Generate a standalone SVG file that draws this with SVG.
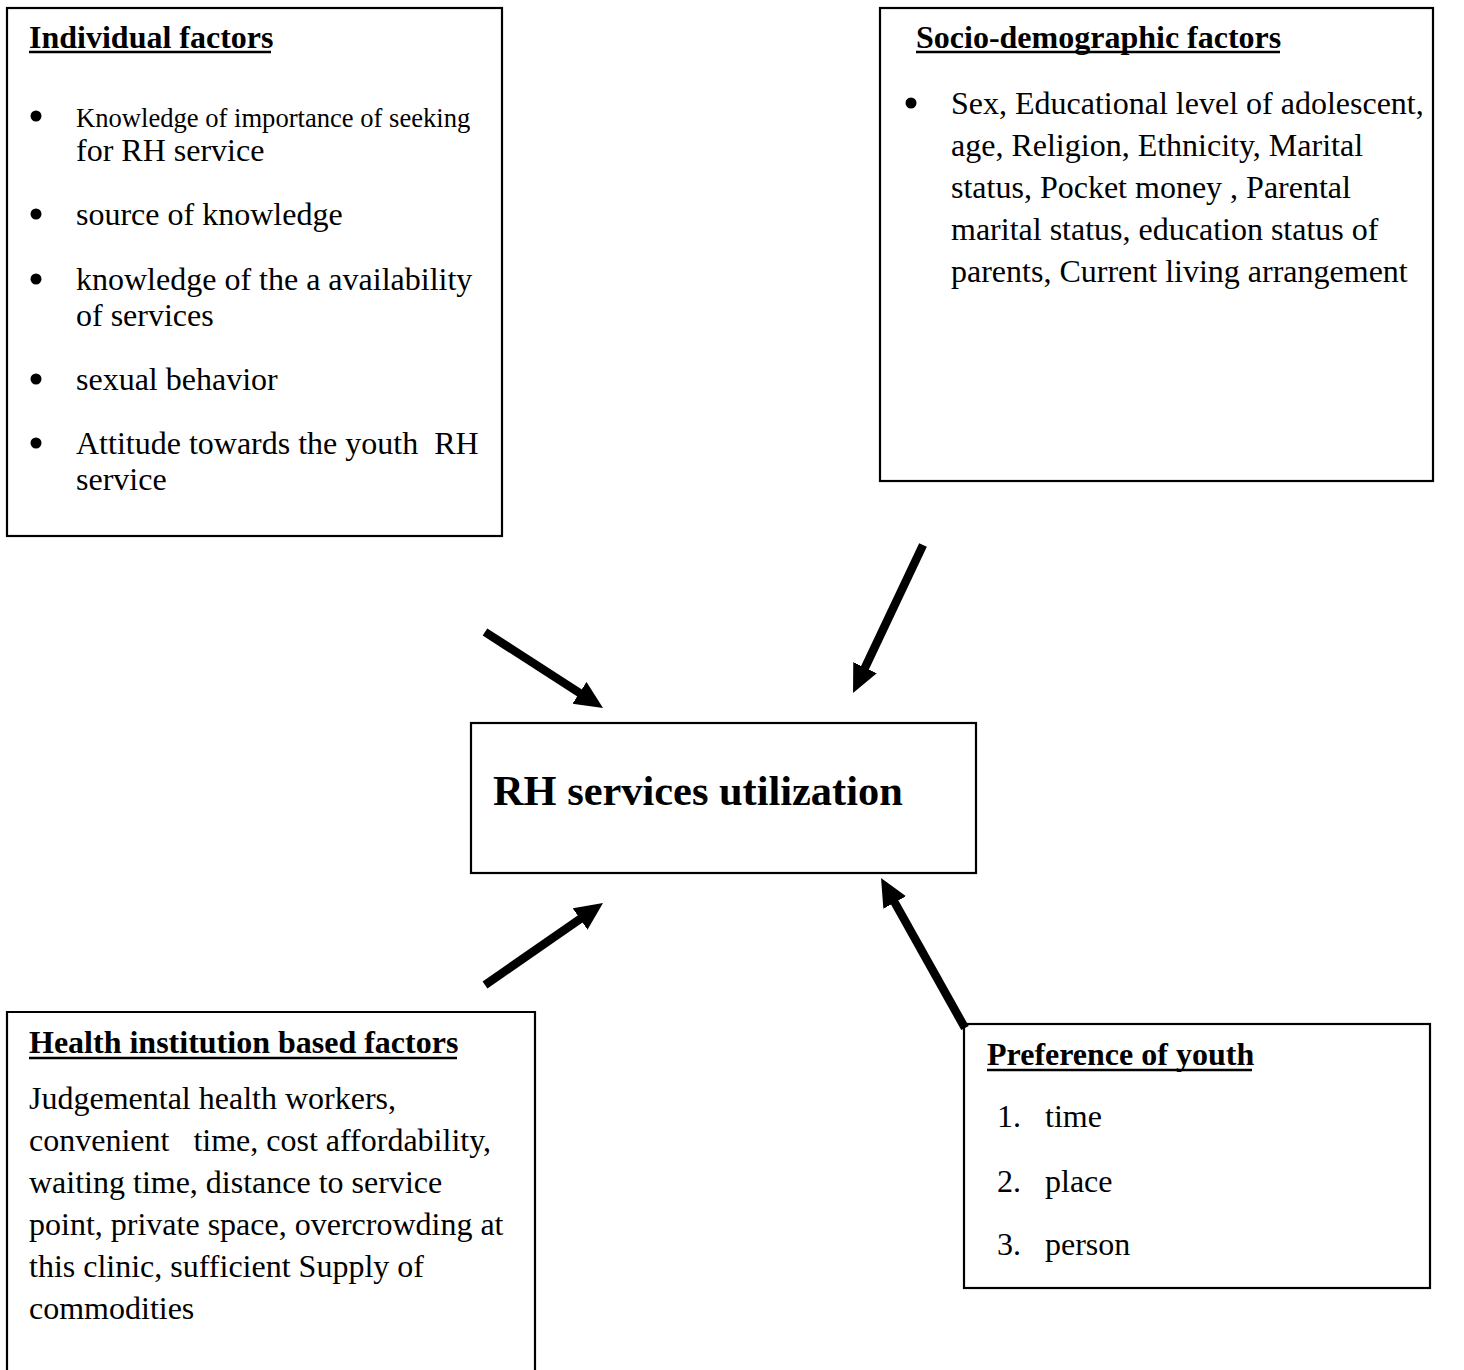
<svg xmlns="http://www.w3.org/2000/svg" width="1464" height="1370" viewBox="0 0 1464 1370">
<defs>
<style>
.box{fill:#fff;stroke:#000;stroke-width:2.2}
.t{font-family:"Liberation Serif","Times New Roman",serif;font-size:32px;fill:#000}
.s{font-size:26.6px}
.h{font-weight:bold}
.big{font-weight:bold;font-size:42.4px}
.ul{stroke:#000;stroke-width:2.5}
.arr{stroke:#000;stroke-width:8.5;fill:none;marker-end:url(#ah)}
</style>
<marker id="ah" markerUnits="userSpaceOnUse" markerWidth="30" markerHeight="28" refX="8" refY="13" orient="auto" viewBox="0 0 30 28">
<path d="M0,0 L28,13 L0,26 z" fill="#000"/>
</marker>
</defs>
<rect width="1464" height="1370" fill="#fff"/>

<g id="individual">
<rect class="box" x="7" y="8" width="495" height="528"/>
<text class="t h" x="29" y="48">Individual factors</text>
<line class="ul" x1="29" y1="52" x2="271" y2="52"/>
<circle cx="36" cy="116" r="5.5"/>
<text class="t s" x="76" y="127">Knowledge of importance of seeking</text>
<text class="t" x="76" y="161">for RH service</text>
<circle cx="36" cy="214" r="5.5"/>
<text class="t" x="76" y="225">source of knowledge</text>
<circle cx="36" cy="279" r="5.5"/>
<text class="t" x="76" y="290">knowledge of the a availability</text>
<text class="t" x="76" y="326">of services</text>
<circle cx="36" cy="379" r="5.5"/>
<text class="t" x="76" y="390">sexual behavior</text>
<circle cx="36" cy="443" r="5.5"/>
<text class="t" x="76" y="454" xml:space="preserve">Attitude towards the youth  RH</text>
<text class="t" x="76" y="490">service</text>
</g>

<g id="socio">
<rect class="box" x="880" y="8" width="553" height="473"/>
<text class="t h" x="916" y="48">Socio-demographic factors</text>
<line class="ul" x1="916" y1="52" x2="1280" y2="52"/>
<circle cx="911" cy="103" r="5.5"/>
<text class="t" x="951" y="114">Sex, Educational level of adolescent,</text>
<text class="t" x="951" y="156">age, Religion, Ethnicity, Marital</text>
<text class="t" x="951" y="198">status, Pocket money , Parental</text>
<text class="t" x="951" y="240">marital status, education status of</text>
<text class="t" x="951" y="282">parents, Current living arrangement</text>
</g>

<g id="rh">
<rect class="box" x="471" y="723" width="505" height="150"/>
<text class="t big" x="493" y="805">RH services utilization</text>
</g>

<g id="health">
<path class="box" d="M7,1372 V1012 H535 V1372"/>
<text class="t h" x="29" y="1053">Health institution based factors</text>
<line class="ul" x1="29" y1="1058" x2="457" y2="1058"/>
<text class="t" x="29" y="1109">Judgemental health workers,</text>
<text class="t" x="29" y="1151" xml:space="preserve">convenient   time, cost affordability,</text>
<text class="t" x="29" y="1193">waiting time, distance to service</text>
<text class="t" x="29" y="1235">point, private space, overcrowding at</text>
<text class="t" x="29" y="1277">this clinic, sufficient Supply of</text>
<text class="t" x="29" y="1319">commodities</text>
</g>

<g id="preference">
<rect class="box" x="964" y="1024" width="466" height="264"/>
<text class="t h" x="987" y="1065">Preference of youth</text>
<line class="ul" x1="987" y1="1070" x2="1252" y2="1070"/>
<text class="t" x="997" y="1127">1.</text>
<text class="t" x="1045" y="1127">time</text>
<text class="t" x="997" y="1192">2.</text>
<text class="t" x="1045" y="1192">place</text>
<text class="t" x="997" y="1255">3.</text>
<text class="t" x="1045" y="1255">person</text>
</g>

<g id="connectors">
<line class="arr" x1="485" y1="632" x2="586.2" y2="697.2"/>
<line class="arr" x1="923" y1="545" x2="861.6" y2="674.9"/>
<line class="arr" x1="485" y1="985" x2="586.6" y2="914.4"/>
<line class="arr" x1="965" y1="1028" x2="890.8" y2="895.5"/>
</g>
</svg>
